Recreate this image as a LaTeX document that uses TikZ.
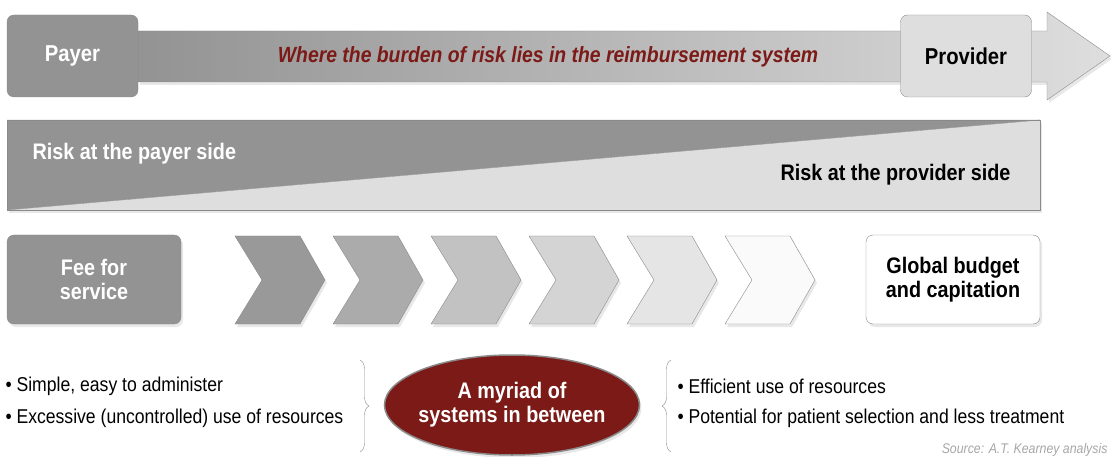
\documentclass[tikz,border=0pt]{standalone}
\usepackage{fontspec}
\setmainfont{Liberation Sans}[FakeStretch=0.88]
\usepackage{tikz}
\usetikzlibrary{shapes.geometric,decorations.pathreplacing,shadows}
\definecolor{riskred}{HTML}{7B1A16}
\definecolor{darkbox}{HTML}{939393}
\definecolor{lightbox}{HTML}{DEDEDE}
\definecolor{edgegray}{HTML}{8A8A8A}

\begin{document}
\begin{tikzpicture}[x=1pt,y=-1pt,
  softshadow/.style={drop shadow={opacity=.18,shadow xshift=2pt,shadow yshift=-3pt}},
  endbox/.style={rounded corners=7pt,draw=edgegray,minimum width=131pt,minimum height=82pt,font=\fontsize{23}{25}\selectfont\bfseries},
  typebox/.style={rounded corners=7pt,draw=edgegray,minimum width=174pt,minimum height=89pt,align=center,font=\fontsize{22.5}{24}\selectfont\bfseries,softshadow},
  bullet/.style={anchor=west,font=\fontsize{20}{22}\selectfont},
  bracket/.style={draw=edgegray,decorate,decoration={brace,amplitude=9pt}}]
\useasboundingbox (0,0) rectangle (1111,457);

\fill[white,softshadow] (138,31) -- (1047,31) -- (1047,12) -- (1110,56) -- (1047,100) -- (1047,82) -- (138,82) -- cycle;
\shade[left color=darkbox,right color=lightbox,draw=edgegray] (138,31) -- (1047,31) -- (1047,12) -- (1110,56) -- (1047,100) -- (1047,82) -- (138,82) -- cycle;
\node[endbox,fill=darkbox,text=white] (payer) at (72.5,56) {Payer};
\node[endbox,fill=lightbox] (provider) at (966,56) {Provider};
\node[font=\fontsize{22}{24}\selectfont\bfseries\itshape,text=riskred] (burden) at (548,57) {Where the burden of risk lies in the reimbursement system};

\fill[white,softshadow] (7,120) rectangle (1040,210);
\fill[darkbox] (7,120) -- (1040,120) -- (7,210) -- cycle;
\fill[lightbox] (1040,120) -- (1040,210) -- (7,210) -- cycle;
\draw[edgegray] (7,210) -- (1040,120);
\draw[edgegray] (7,120) rectangle (1040,210);
\node[anchor=west,text=white,font=\fontsize{22.5}{24}\selectfont\bfseries] (payerrisk) at (29,154) {Risk at the payer side};
\node[anchor=east,font=\fontsize{22.5}{24}\selectfont\bfseries] (providerrisk) at (1014,175) {Risk at the provider side};

\node[typebox,fill=darkbox,text=white] (fee) at (94,279.5) {Fee for\\service};
\node[typebox,fill=white] (global) at (953,279.5) {Global budget\\and capitation};
\foreach \x/\c in {235/40,333/33,431/24,529/17,627/10,725/2}
  \draw[edgegray,fill=black!\c,softshadow] (\x,236) -- ++(65,0) -- ++(25,44) -- ++(-25,44) -- ++(-65,0) -- ++(27,-44) -- cycle;

\node[bullet] (simple) at (2,386) {\textbullet\ Simple, easy to administer};
\node[bullet] (excessive) at (2,418) {\textbullet\ Excessive (uncontrolled) use of resources};
\draw[fill=riskred,draw=edgegray,line width=1.5pt,softshadow] (512,405) ellipse (127.5 and 50);
\node[align=center,text=white,font=\fontsize{22.5}{24}\selectfont\bfseries] (myriad) at (512,405) {A myriad of\\systems in between};
\node[bullet] (efficient) at (674,386) {\textbullet\ Efficient use of resources};
\node[bullet] (potential) at (674,418) {\textbullet\ Potential for patient selection and less treatment};
\coordinate (lefttop) at (360,360);
\coordinate (leftbot) at (360,452);
\coordinate (righttop) at (671,360);
\coordinate (rightbot) at (671,452);
\draw[bracket] (lefttop) -- (leftbot);
\draw[bracket] (rightbot) -- (righttop);
\node[anchor=base east,text=gray!70,font=\fontsize{14}{16}\selectfont\itshape] (source) at (1111,453) {Source: A.T. Kearney analysis};
\end{tikzpicture}
\end{document}
